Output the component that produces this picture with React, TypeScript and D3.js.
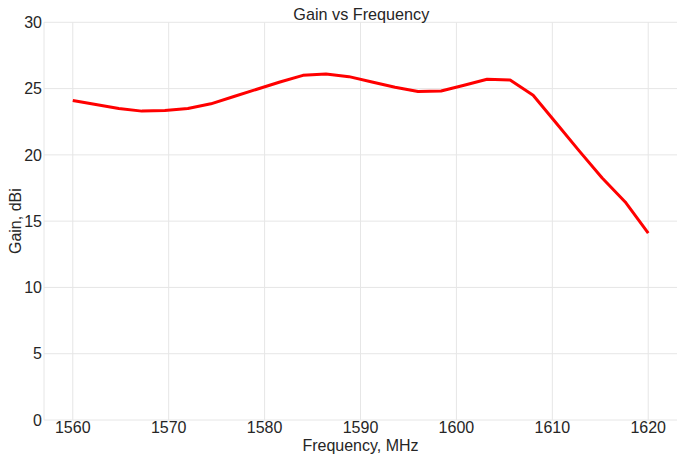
import React, { useEffect, useRef } from "react";
import * as d3 from "d3";

// frequency sweep, MHz (step 2.4)
const freqs = [
  1560, 1562.4, 1564.8, 1567.2, 1569.6, 1572, 1574.4, 1576.8, 1579.2, 1581.6,
  1584, 1586.4, 1588.8, 1591.2, 1593.6, 1596, 1598.4, 1600.8, 1603.2, 1605.6,
  1608, 1610.4, 1612.8, 1615.2, 1617.6, 1620,
];
// gain, dBi
const gains = [
  24.1, 23.8, 23.5, 23.3, 23.35, 23.5, 23.85, 24.4, 24.95, 25.5,
  26.0, 26.1, 25.9, 25.5, 25.1, 24.78, 24.82, 25.25, 25.7, 25.65,
  24.5, 22.4, 20.3, 18.25, 16.45, 14.1,
];
const xTicks = [1560, 1570, 1580, 1590, 1600, 1610, 1620];
const yTicks = [0, 5, 10, 15, 20, 25, 30];

const W = 677;
const H = 459;
const FONT = "'Liberation Sans', Arial, sans-serif";
const TEXT = "#262626";
const GRID = "#e6e6e6";

export default function App() {
  const ref = useRef<SVGSVGElement>(null);

  useEffect(() => {
    const svg = d3.select(ref.current);
    svg.selectAll("*").remove();

    const left = 44, right = 677, top = 22.3, bottom = 420;
    const x = d3.scaleLinear().domain([1557, 1623]).range([left, right]);
    const y = d3.scaleLinear().domain([0, 30]).range([bottom, top]);

    // grid
    svg.append("g").selectAll("line").data(yTicks).join("line")
      .attr("x1", left).attr("x2", right)
      .attr("y1", d => y(d)).attr("y2", d => y(d))
      .attr("stroke", GRID).attr("stroke-width", 1);
    svg.append("g").selectAll("line").data(xTicks).join("line")
      .attr("x1", d => x(d)).attr("x2", d => x(d))
      .attr("y1", top).attr("y2", bottom)
      .attr("stroke", GRID).attr("stroke-width", 1);
    svg.append("line")
      .attr("x1", left).attr("x2", left).attr("y1", top).attr("y2", bottom)
      .attr("stroke", GRID);

    // tick labels
    svg.append("g").selectAll("text").data(yTicks).join("text")
      .attr("x", left - 2).attr("y", d => y(d) + 5.7)
      .attr("text-anchor", "end")
      .attr("font-family", FONT).attr("font-size", 16).attr("fill", TEXT)
      .text(d => d);
    svg.append("g").selectAll("text").data(xTicks).join("text")
      .attr("x", d => x(d)).attr("y", 433)
      .attr("text-anchor", "middle")
      .attr("font-family", FONT).attr("font-size", 16).attr("fill", TEXT)
      .text(d => d);

    // the curve
    const pts = freqs.map((f, i) => [f, gains[i]] as [number, number]);
    const line = d3.line<[number, number]>().x(d => x(d[0])).y(d => y(d[1]));
    svg.append("path").datum(pts)
      .attr("d", line)
      .attr("fill", "none").attr("stroke", "#ff0000")
      .attr("stroke-width", 3).attr("stroke-linejoin", "round");

    // titles
    svg.append("text")
      .attr("x", 361.3).attr("y", 19.5)
      .attr("text-anchor", "middle")
      .attr("font-family", FONT).attr("font-size", 17).attr("fill", TEXT)
      .attr("textLength", 136).attr("lengthAdjust", "spacingAndGlyphs")
      .text("Gain vs Frequency");
    svg.append("text")
      .attr("x", (left + right) / 2).attr("y", 450.5)
      .attr("text-anchor", "middle")
      .attr("font-family", FONT).attr("font-size", 16).attr("fill", TEXT)
      .text("Frequency, MHz");
    svg.append("text")
      .attr("transform", `translate(21,${(top + bottom) / 2}) rotate(-90)`)
      .attr("text-anchor", "middle")
      .attr("font-family", FONT).attr("font-size", 16).attr("fill", TEXT)
      .text("Gain, dBi");
  }, []);

  return (
    <svg ref={ref} width={W} height={H}
      style={{ position: "absolute", left: 0, top: 0, background: "#fff" }} />
  );
}
